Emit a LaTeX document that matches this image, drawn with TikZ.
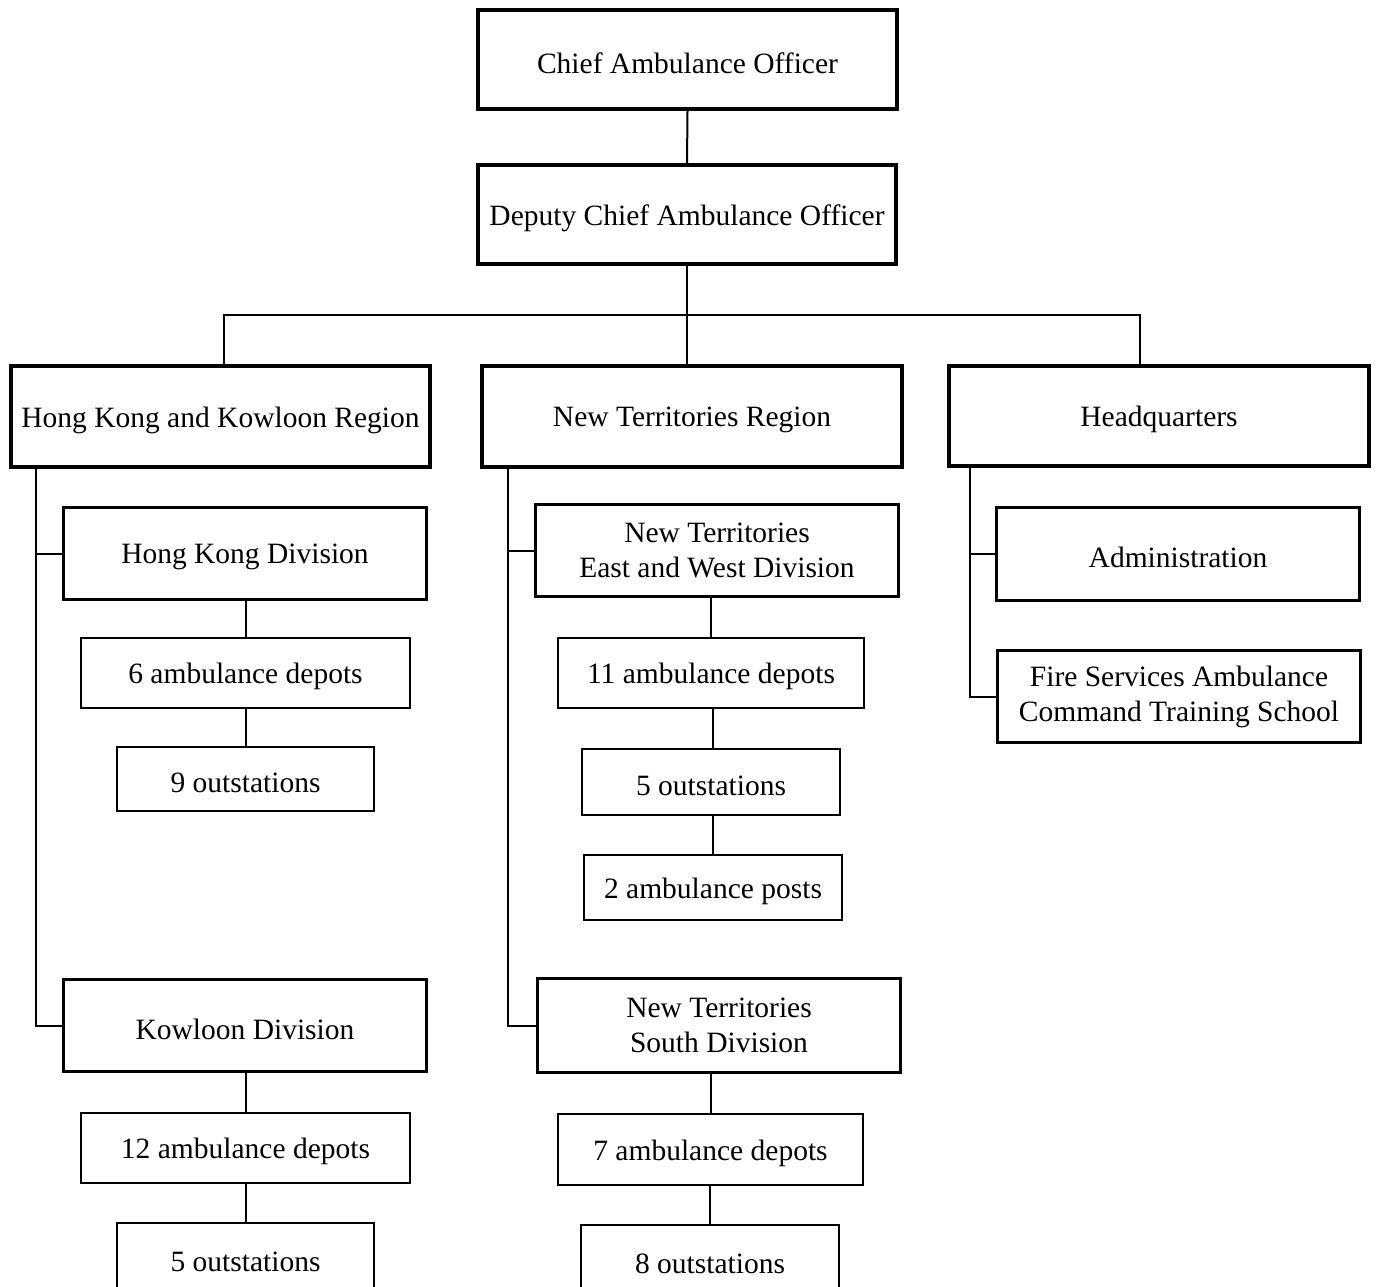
\documentclass[tikz,border=0pt]{standalone}
\usepackage{fontspec}
\setmainfont{Liberation Serif}
\newcommand{\lowtxt}[1]{\raisebox{0pt}[\dimexpr\height+7pt\relax][\depth]{#1}}
\begin{document}
\begin{tikzpicture}[x=1pt,y=-1pt,
  box/.style={draw, rectangle, inner sep=0pt, align=center, font=\fontsize{29.5}{35}\selectfont},
  bigbox/.style={box, line width=4pt},
  midbox/.style={box, line width=3pt},
  smallbox/.style={box, line width=2pt},
  conn/.style={line width=2pt}]
\useasboundingbox (0,0) rectangle (1378,1287);
\clip (0,0) rectangle (1378,1287);
% top
\node[bigbox, minimum width=419pt, minimum height=99pt] (chief) at (687.5,59.5) {\lowtxt{Chief Ambulance Officer}};
\node[bigbox, minimum width=418pt, minimum height=99pt] (deputy) at (687,214.5) {\lowtxt{Deputy Chief Ambulance Officer}};
% regions
\node[bigbox, minimum width=419pt, minimum height=101pt] (hkk) at (220.5,416.5) {\lowtxt{Hong Kong and Kowloon Region}};
\node[bigbox, minimum width=420pt, minimum height=101pt] (nt) at (692,416.5) {\lowtxt{New Territories Region}};
\node[bigbox, minimum width=420pt, minimum height=100pt] (hq) at (1159,416) {\lowtxt{Headquarters}};
% HK & Kowloon
\node[midbox, minimum width=363pt, minimum height=92pt] (hkdiv) at (245,553.5) {\lowtxt{Hong Kong Division}};
\node[smallbox, minimum width=329pt, minimum height=70pt] (hkdep) at (245.5,673) {\lowtxt{6 ambulance depots}};
\node[smallbox, minimum width=257pt, minimum height=64pt] (hkout) at (245.5,779) {\lowtxt{9 outstations}};
\node[midbox, minimum width=363pt, minimum height=92pt] (kdiv) at (245,1025.5) {\lowtxt{Kowloon Division}};
\node[smallbox, minimum width=329pt, minimum height=70pt] (kdep) at (245.5,1148) {\lowtxt{12 ambulance depots}};
\node[smallbox, minimum width=257pt, minimum height=70pt] (kout) at (245.5,1258) {\lowtxt{5 outstations}};
% New Territories
\node[midbox, minimum width=363pt, minimum height=92pt] (ntew) at (717,550.5) {New Territories\\East and West Division};
\node[smallbox, minimum width=306pt, minimum height=70pt] (ntewdep) at (711,673) {\lowtxt{11 ambulance depots}};
\node[smallbox, minimum width=258pt, minimum height=66pt] (ntewout) at (711,782) {\lowtxt{5 outstations}};
\node[smallbox, minimum width=258pt, minimum height=65pt] (ntewpost) at (713,887.5) {\lowtxt{2 ambulance posts}};
\node[midbox, minimum width=363pt, minimum height=94pt] (nts) at (719,1025.5) {New Territories\\South Division};
\node[smallbox, minimum width=305pt, minimum height=71pt] (ntsdep) at (710.5,1149.5) {\lowtxt{7 ambulance depots}};
\node[smallbox, minimum width=258pt, minimum height=70pt] (ntsout) at (710,1260) {\lowtxt{8 outstations}};
% Headquarters
\node[midbox, minimum width=363pt, minimum height=93pt] (admin) at (1178,554) {\lowtxt{Administration}};
\node[midbox, minimum width=363pt, minimum height=92pt] (school) at (1179,696.5) {Fire Services Ambulance\\Command Training School};
% coordinates
\coordinate (busL) at (224,315);
\coordinate (busR) at (1140,315);
\coordinate (trunkL) at (36,0);
\coordinate (trunkN) at (508,0);
\coordinate (trunkH) at (970,0);
% connectors
\draw[conn] (chief.south) -- (deputy.north);
\draw[conn] (deputy.south) -- (deputy.south |- nt.north);
\draw[conn] (busL |- hkk.north) -- (busL) -- (busR) -- (busR |- hq.north);
% HKK trunk
\draw[conn] (trunkL |- hkk.south) -- (trunkL |- kdiv.west) -- (kdiv.west);
\draw[conn] (trunkL |- hkdiv.west) -- (hkdiv.west);
\draw[conn] (hkdep.north) -- (hkdep.north |- hkdiv.south);
\draw[conn] (hkout.north) -- (hkout.north |- hkdep.south);
\draw[conn] (kdep.north) -- (kdep.north |- kdiv.south);
\draw[conn] (kout.north) -- (kout.north |- kdep.south);
% NT trunk
\draw[conn] (trunkN |- nt.south) -- (trunkN |- nts.west) -- (nts.west);
\draw[conn] (trunkN |- ntew.west) -- (ntew.west);
\draw[conn] (ntewdep.north) -- (ntewdep.north |- ntew.south);
\draw[conn] ([xshift=2pt]ntewout.north) -- ([xshift=2pt]ntewout.north |- ntewdep.south);
\draw[conn] (ntewpost.north) -- (ntewpost.north |- ntewout.south);
\draw[conn] (ntsdep.north) -- (ntsdep.north |- nts.south);
\draw[conn] (ntsout.north) -- (ntsout.north |- ntsdep.south);
% HQ trunk
\draw[conn] (trunkH |- hq.south) -- (trunkH |- school.west) -- (school.west);
\draw[conn] (trunkH |- admin.west) -- (admin.west);
\end{tikzpicture}
\end{document}
